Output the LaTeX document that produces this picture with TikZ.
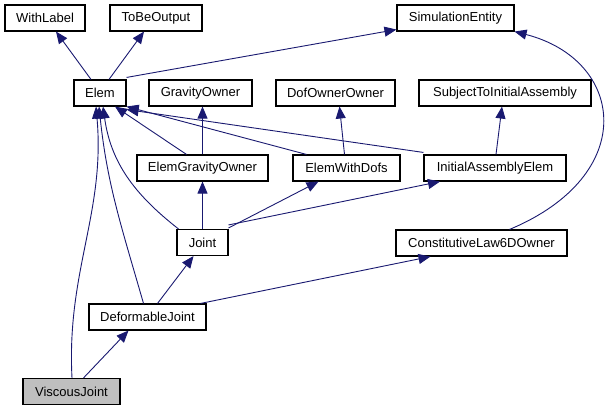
\documentclass[tikz,border=0pt]{standalone}
\usepackage{fontspec}
\setmainfont{Liberation Sans}
\usetikzlibrary{arrows.meta}
\definecolor{edgeblue}{HTML}{191970}
\definecolor{leafgray}{HTML}{BFBFBF}
\begin{document}
\begin{tikzpicture}[x=1pt,y=-1pt,
  cls/.style={draw,fill=white,line width=1.1pt,minimum height=26pt,inner sep=0pt,
    font=\fontsize{13}{15}\selectfont},
  inh/.style={draw=edgeblue,line width=0.9pt,-{Triangle[length=12pt,width=10pt]},fill=none}]
\useasboundingbox (0,0) rectangle (614,411);
\node [cls, minimum width=80pt] (withlabel) at (45,18) {WithLabel};
\node [cls, minimum width=92pt] (tobeoutput) at (156,18) {ToBeOutput};
\node [cls, minimum width=117pt] (siment) at (455.5,18) {SimulationEntity};
\node [cls, minimum width=52pt] (elem) at (100,93) {Elem};
\node [cls, minimum width=103pt] (gravown) at (200.5,93) {GravityOwner};
\node [cls, minimum width=119pt] (dofown) at (335.5,93) {DofOwnerOwner};
\node [cls, minimum width=172pt] (subjinit) at (505,93) {SubjectToInitialAssembly};
\node [cls, minimum width=131pt] (elemgrav) at (202.5,168) {ElemGravityOwner};
\node [cls, minimum width=107pt] (elemdofs) at (346.5,168) {ElemWithDofs};
\node [cls, minimum width=142pt] (initelem) at (495,168) {InitialAssemblyElem};
\node [cls, minimum width=51pt] (joint) at (202.5,242.5) {Joint};
\node [cls, minimum width=171pt] (constlaw) at (481.5,243) {ConstitutiveLaw6DOwner};
\node [cls, minimum width=117pt] (defjoint) at (147.5,317) {DeformableJoint};
\node [cls, minimum width=97pt, fill=leafgray] (visjoint) at (71.5,391.5) {ViscousJoint};
% inheritance arrows, child to parent
\draw [inh] ([xshift=-9pt]elem.north) -- ([xshift=11pt]withlabel.south);
\draw [inh] ([xshift=9pt]elem.north) -- ([xshift=-12pt]tobeoutput.south);
\draw [inh] ([yshift=2pt]elem.north east) -- ([yshift=2pt]siment.south west);
\draw [inh] ([xshift=-16pt]elemgrav.north) -- ([xshift=15pt]elem.south);
\draw [inh] (elemgrav.north) -- (elemgrav.north |- gravown.south);
\draw [inh] ([xshift=-40pt]elemdofs.north) -- (elem.south east);
\draw [inh] ([xshift=-2pt]elemdofs.north) -- ([xshift=4pt]dofown.south);
\draw [inh] ([yshift=2pt]initelem.north west) -- ([yshift=-3pt]elem.south east);
\draw [inh] ([xshift=1pt]initelem.north) -- ([xshift=-3pt]subjinit.south);
\draw [inh] ([xshift=-24pt]joint.north) to [out=142,in=-82] ([xshift=3pt]elem.south);
\draw [inh] (joint.north) -- (joint.north |- elemgrav.south);
\draw [inh] ([yshift=1pt]joint.north east) -- ([xshift=-28pt]elemdofs.south);
\draw [inh] ([yshift=4pt]joint.north east) -- ([xshift=-55pt]initelem.south);
\draw [inh] ([xshift=28pt]constlaw.north) .. controls (640,175) and (625,60) .. (siment.south east);
\draw [inh] ([xshift=-4pt]defjoint.north) to [out=106,in=-84] ([xshift=-1pt]elem.south);
\draw [inh] ([xshift=10pt]defjoint.north) -- ([xshift=-9pt]joint.south);
\draw [inh] ([xshift=53pt]defjoint.north) -- ([xshift=-51pt]constlaw.south);
\draw [inh] ([xshift=0.5pt]visjoint.north) to [out=93,in=-85] ([xshift=-4pt]elem.south);
\draw [inh] ([xshift=12pt]visjoint.north) -- ([xshift=-19pt]defjoint.south);
\end{tikzpicture}
\end{document}
